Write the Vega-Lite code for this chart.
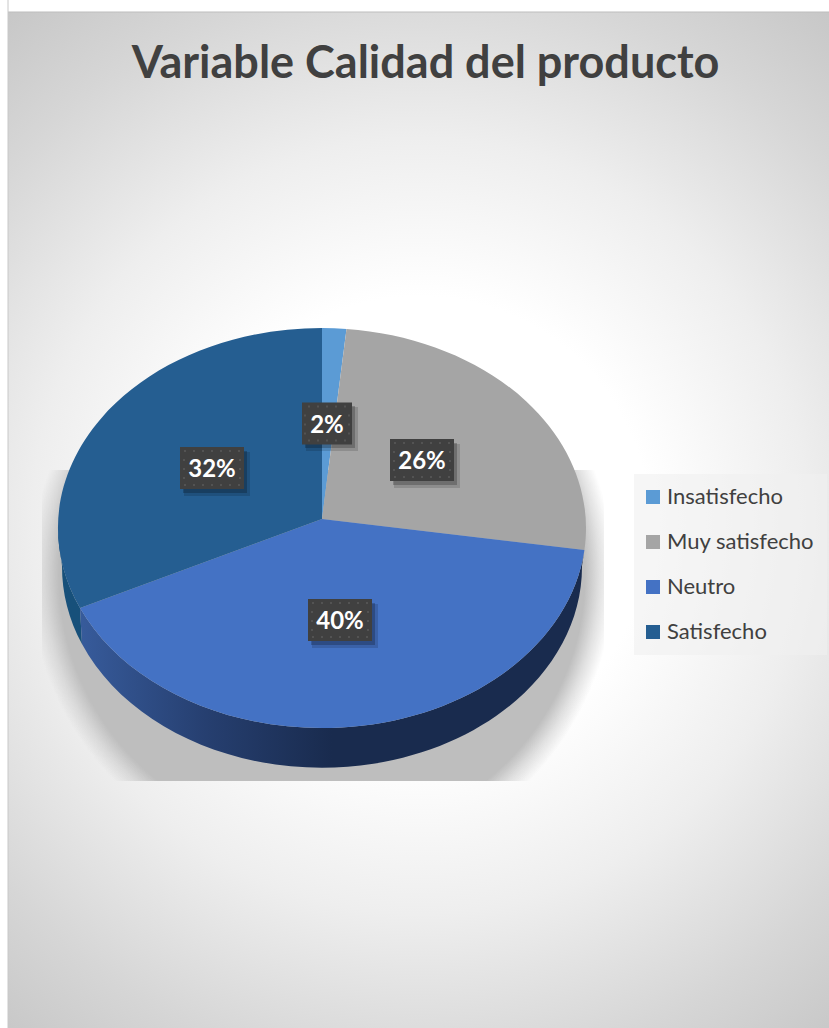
{
  "$schema": "https://vega.github.io/schema/vega-lite/v6.json",
  "width": 829,
  "height": 1028,
  "padding": 0,
  "autosize": "none",
  "background": "#ffffff",
  "view": {"stroke": null},
  "title": {
    "text": "Variable Calidad del producto",
    "font": "Lato",
    "fontWeight": "bold",
    "fontSize": 45,
    "color": "#404040",
    "anchor": "middle",
    "dx": 11,
    "dy": 92,
    "offset": 0
  },
  "data": {
    "values": [
      {"categoria": "Insatisfecho", "porcentaje": 0.02},
      {"categoria": "Muy satisfecho", "porcentaje": 0.26},
      {"categoria": "Neutro", "porcentaje": 0.40},
      {"categoria": "Satisfecho", "porcentaje": 0.32}
    ]
  },
  "resolve": {"scale": {"x": "independent", "y": "independent", "color": "independent", "shape": "independent"}},
  "layer": [
    {
      "transform": [{"filter": "datum.categoria === 'Neutro'"}],
      "mark": {
        "type": "rect",
        "stroke": "#bdbdbd",
        "strokeWidth": 1,
        "fill": {
          "gradient": "radial",
          "x1": 0.5, "y1": 0.5, "r1": 0,
          "x2": 0.5, "y2": 0.5, "r2": 0.72,
          "stops": [
            {"offset": 0, "color": "#ffffff"},
            {"offset": 0.29, "color": "#ffffff"},
            {"offset": 0.49, "color": "#eeeeee"},
            {"offset": 0.69, "color": "#d6d6d6"},
            {"offset": 0.88, "color": "#c2c2c2"},
            {"offset": 1, "color": "#bcbcbc"}
          ]
        }
      },
      "encoding": {
        "x": {"datum": -130, "type": "quantitative", "axis": null, "scale": {"domain": [0, 829]}},
        "x2": {"datum": 970},
        "y": {"datum": 12, "type": "quantitative", "axis": null, "scale": {"domain": [0, 1028], "reverse": true}},
        "y2": {"datum": 1040}
      }
    },
    {
      "transform": [{"filter": "datum.categoria === 'Neutro'"}],
      "mark": {"type": "rect", "fill": "#ffffff", "stroke": "#c8c8c8", "strokeWidth": 1},
      "encoding": {
        "x": {"datum": -5, "type": "quantitative", "axis": null, "scale": {"domain": [0, 829]}},
        "x2": {"datum": 8},
        "y": {"datum": -5, "type": "quantitative", "axis": null, "scale": {"domain": [0, 1028], "reverse": true}},
        "y2": {"datum": 1040}
      }
    },
    {
      "description": "Square keys for the legend; they sit under the pie",
      "mark": {"type": "square", "filled": true, "opacity": 1, "size": 4},
      "encoding": {
        "x": {"datum": 322, "type": "quantitative", "axis": null, "scale": {"domain": [0, 829]}},
        "y": {"datum": 528, "type": "quantitative", "axis": null, "scale": {"domain": [0, 1028], "reverse": true}},
        "color": {
          "field": "categoria",
          "type": "nominal",
          "scale": {
            "domain": ["Insatisfecho", "Muy satisfecho", "Neutro", "Satisfecho"],
            "range": ["#5b9bd5", "#a5a5a5", "#4472c4", "#255e91"]
          },
          "legend": {
            "title": null,
            "orient": "none",
            "legendX": 634,
            "legendY": 474,
            "padding": 12,
            "fillColor": "rgba(240,240,240,0.6)",
            "symbolType": "square",
            "symbolSize": 196,
            "symbolStrokeWidth": 0,
            "symbolOpacity": 1,
            "symbolOffset": -4,
            "labelFont": "Lato",
            "labelFontSize": 22,
            "labelColor": "#404040",
            "labelOffset": 3,
            "rowPadding": 23,
            "labelLimit": 300
          }
        }
      }
    },
    {
      "description": "Soft shadow under the pie",
      "transform": [{"filter": "datum.categoria === 'Neutro'"}],
      "mark": {
        "type": "point",
        "filled": true,
        "opacity": 1,
        "size": 4,
        "shape": "M-280 -161L-280 -161.01ZM-280 -58H282V253H-280Z",
        "fill": {
          "gradient": "radial",
          "x1": 0.498, "y1": 0.502, "r1": 0,
          "x2": 0.498, "y2": 0.502, "r2": 0.52,
          "stops": [
            {"offset": 0, "color": "rgba(190,190,190,1)"},
            {"offset": 0.9, "color": "rgba(190,190,190,1)"},
            {"offset": 0.95, "color": "rgba(190,190,190,0.45)"},
            {"offset": 1, "color": "rgba(190,190,190,0)"}
          ]
        }
      },
      "encoding": {
        "x": {"datum": 322, "type": "quantitative", "axis": null, "scale": {"domain": [0, 829]}},
        "y": {"datum": 528, "type": "quantitative", "axis": null, "scale": {"domain": [0, 1028], "reverse": true}}
      }
    },
    {
      "transform": [{"filter": "datum.categoria === 'Satisfecho'"}],
      "mark": {
        "type": "point",
        "filled": true,
        "opacity": 1,
        "size": 4,
        "shape": "M-264 0A264 200 0 0 0 -242 80L-240 116A260 201 0 0 1 -260 38Z",
        "fill": "#17507a"
      },
      "encoding": {
        "x": {"datum": 322, "type": "quantitative", "axis": null, "scale": {"domain": [0, 829]}},
        "y": {"datum": 528, "type": "quantitative", "axis": null, "scale": {"domain": [0, 1028], "reverse": true}}
      }
    },
    {
      "transform": [{"filter": "datum.categoria === 'Neutro'"}],
      "mark": {
        "type": "point",
        "filled": true,
        "opacity": 1,
        "size": 4,
        "shape": "M-242 80L-240 116A260 201 0 0 0 260 38L262.4 22A264 200 0 0 1 -242 80Z",
        "fill": {
          "gradient": "linear",
          "x1": 0, "y1": 0, "x2": 1, "y2": 0,
          "stops": [
            {"offset": 0, "color": "#375b9b"},
            {"offset": 0.25, "color": "#263f70"},
            {"offset": 0.5, "color": "#192b4e"},
            {"offset": 1, "color": "#192b4e"}
          ]
        }
      },
      "encoding": {
        "x": {"datum": 322, "type": "quantitative", "axis": null, "scale": {"domain": [0, 829]}},
        "y": {"datum": 528, "type": "quantitative", "axis": null, "scale": {"domain": [0, 1028], "reverse": true}}
      }
    },
    {
      "mark": {"type": "point", "filled": true, "opacity": 1, "size": 4},
      "encoding": {
        "x": {"datum": 322, "type": "quantitative", "axis": null, "scale": {"domain": [0, 829]}},
        "y": {"datum": 528, "type": "quantitative", "axis": null, "scale": {"domain": [0, 1028], "reverse": true}},
        "shape": {
          "field": "categoria",
          "type": "nominal",
          "legend": null,
          "scale": {
            "domain": ["Insatisfecho", "Muy satisfecho", "Neutro", "Satisfecho"],
            "range": [
              "M0 -9L0 -200A264 200 0 0 1 24.5 -199.1Z",
              "M0 -9L24.5 -199.1A264 200 0 0 1 262.4 22Z",
              "M0 -9L262.4 22A264 200 0 0 1 -242 80Z",
              "M0 -9L-242 80A264 200 0 0 1 0 -200Z"
            ]
          }
        },
        "color": {
          "field": "categoria",
          "type": "nominal",
          "legend": null,
          "scale": {
            "domain": ["Insatisfecho", "Muy satisfecho", "Neutro", "Satisfecho"],
            "range": ["#5b9bd5", "#a5a5a5", "#4472c4", "#255e91"]
          }
        }
      }
    },
    {
      "mark": {"type": "point", "filled": true, "opacity": 0.14, "size": 4, "fill": "#000000"},
      "encoding": {
        "x": {"field": "porcentaje", "type": "quantitative", "axis": null, "scale": {"domain": [0.02, 0.26, 0.32, 0.40], "range": [332, 427, 217, 345], "zero": false, "nice": false}},
        "y": {"field": "porcentaje", "type": "quantitative", "axis": null, "scale": {"domain": [0.02, 0.26, 0.32, 0.40], "range": [429, 466, 474, 626], "zero": false, "nice": false}},
        "shape": {
          "field": "categoria",
          "type": "nominal",
          "legend": null,
          "scale": {
            "domain": ["Insatisfecho", "Muy satisfecho", "Neutro", "Satisfecho"],
            "range": ["M-26 -22H26V22H-26Z", "M-33 -22H33V22H-33Z", "M-33 -22H33V22H-33Z", "M-33 -22H33V22H-33Z"]
          }
        }
      }
    },
    {
      "mark": {"type": "point", "filled": true, "opacity": 0.22, "size": 4, "fill": "#000000"},
      "encoding": {
        "x": {"field": "porcentaje", "type": "quantitative", "axis": null, "scale": {"domain": [0.02, 0.26, 0.32, 0.40], "range": [330, 425, 215, 343], "zero": false, "nice": false}},
        "y": {"field": "porcentaje", "type": "quantitative", "axis": null, "scale": {"domain": [0.02, 0.26, 0.32, 0.40], "range": [427, 464, 472, 624], "zero": false, "nice": false}},
        "shape": {
          "field": "categoria",
          "type": "nominal",
          "legend": null,
          "scale": {
            "domain": ["Insatisfecho", "Muy satisfecho", "Neutro", "Satisfecho"],
            "range": ["M-25 -21H25V21H-25Z", "M-32 -21H32V21H-32Z", "M-32 -21H32V21H-32Z", "M-32 -21H32V21H-32Z"]
          }
        }
      }
    },
    {
      "mark": {"type": "point", "filled": true, "opacity": 1, "size": 4, "fill": "#404040"},
      "encoding": {
        "x": {"field": "porcentaje", "type": "quantitative", "axis": null, "scale": {"domain": [0.02, 0.26, 0.32, 0.40], "range": [327, 422, 212, 340], "zero": false, "nice": false}},
        "y": {"field": "porcentaje", "type": "quantitative", "axis": null, "scale": {"domain": [0.02, 0.26, 0.32, 0.40], "range": [423.5, 460, 468, 620], "zero": false, "nice": false}},
        "shape": {
          "field": "categoria",
          "type": "nominal",
          "legend": null,
          "scale": {
            "domain": ["Insatisfecho", "Muy satisfecho", "Neutro", "Satisfecho"],
            "range": ["M-25 -21H25V21H-25Z", "M-32 -21H32V21H-32Z", "M-32 -21H32V21H-32Z", "M-32 -21H32V21H-32Z"]
          }
        }
      }
    },
    {
      "description": "Dotted texture of the label boxes",
      "mark": {"type": "point", "filled": true, "opacity": 1, "size": 4, "fill": "#535353"},
      "encoding": {
        "x": {"field": "porcentaje", "type": "quantitative", "axis": null, "scale": {"domain": [0.02, 0.26, 0.32, 0.40], "range": [327, 422, 212, 340], "zero": false, "nice": false}},
        "y": {"field": "porcentaje", "type": "quantitative", "axis": null, "scale": {"domain": [0.02, 0.26, 0.32, 0.40], "range": [423.5, 460, 468, 620], "zero": false, "nice": false}},
        "shape": {
          "field": "categoria",
          "type": "nominal",
          "legend": null,
          "scale": {
            "domain": ["Insatisfecho", "Muy satisfecho", "Neutro", "Satisfecho"],
            "range": [
              "M-19 -18h2v2h-2v-2zm9 0h2v2h-2v-2zm9 0h2v2h-2v-2zm9 0h2v2h-2v-2zm9 0h2v2h-2v-2zM-19 16h2v2h-2v-2zm9 0h2v2h-2v-2zm9 0h2v2h-2v-2zm9 0h2v2h-2v-2zm9 0h2v2h-2v-2zM-23 -9h2v2h-2v-2zM21 -9h2v2h-2v-2zM-23 0h2v2h-2v-2zM21 0h2v2h-2v-2zM-23 9h2v2h-2v-2zM21 9h2v2h-2v-2z",
              "M-28 -18h2v2h-2v-2zm9 0h2v2h-2v-2zm9 0h2v2h-2v-2zm9 0h2v2h-2v-2zm9 0h2v2h-2v-2zm9 0h2v2h-2v-2zm9 0h2v2h-2v-2zM-28 16h2v2h-2v-2zm9 0h2v2h-2v-2zm9 0h2v2h-2v-2zm9 0h2v2h-2v-2zm9 0h2v2h-2v-2zm9 0h2v2h-2v-2zm9 0h2v2h-2v-2zM-29 -9h2v2h-2v-2zM27 -9h2v2h-2v-2zM-29 0h2v2h-2v-2zM27 0h2v2h-2v-2zM-29 9h2v2h-2v-2zM27 9h2v2h-2v-2z",
              "M-28 -18h2v2h-2v-2zm9 0h2v2h-2v-2zm9 0h2v2h-2v-2zm9 0h2v2h-2v-2zm9 0h2v2h-2v-2zm9 0h2v2h-2v-2zm9 0h2v2h-2v-2zM-28 16h2v2h-2v-2zm9 0h2v2h-2v-2zm9 0h2v2h-2v-2zm9 0h2v2h-2v-2zm9 0h2v2h-2v-2zm9 0h2v2h-2v-2zm9 0h2v2h-2v-2zM-29 -9h2v2h-2v-2zM27 -9h2v2h-2v-2zM-29 0h2v2h-2v-2zM27 0h2v2h-2v-2zM-29 9h2v2h-2v-2zM27 9h2v2h-2v-2z",
              "M-28 -18h2v2h-2v-2zm9 0h2v2h-2v-2zm9 0h2v2h-2v-2zm9 0h2v2h-2v-2zm9 0h2v2h-2v-2zm9 0h2v2h-2v-2zm9 0h2v2h-2v-2zM-28 16h2v2h-2v-2zm9 0h2v2h-2v-2zm9 0h2v2h-2v-2zm9 0h2v2h-2v-2zm9 0h2v2h-2v-2zm9 0h2v2h-2v-2zm9 0h2v2h-2v-2zM-29 -9h2v2h-2v-2zM27 -9h2v2h-2v-2zM-29 0h2v2h-2v-2zM27 0h2v2h-2v-2zM-29 9h2v2h-2v-2zM27 9h2v2h-2v-2z"
            ]
          }
        }
      }
    },
    {
      "mark": {"type": "text", "font": "Lato", "fontWeight": "bold", "fontSize": 24, "color": "#ffffff", "baseline": "middle", "align": "center", "dy": 2},
      "encoding": {
        "x": {"field": "porcentaje", "type": "quantitative", "axis": null, "scale": {"domain": [0.02, 0.26, 0.32, 0.40], "range": [327, 422, 212, 340], "zero": false, "nice": false}},
        "y": {"field": "porcentaje", "type": "quantitative", "axis": null, "scale": {"domain": [0.02, 0.26, 0.32, 0.40], "range": [423.5, 460, 468, 620], "zero": false, "nice": false}},
        "text": {"field": "porcentaje", "type": "quantitative", "format": ".0%"}
      }
    }
  ]
}
